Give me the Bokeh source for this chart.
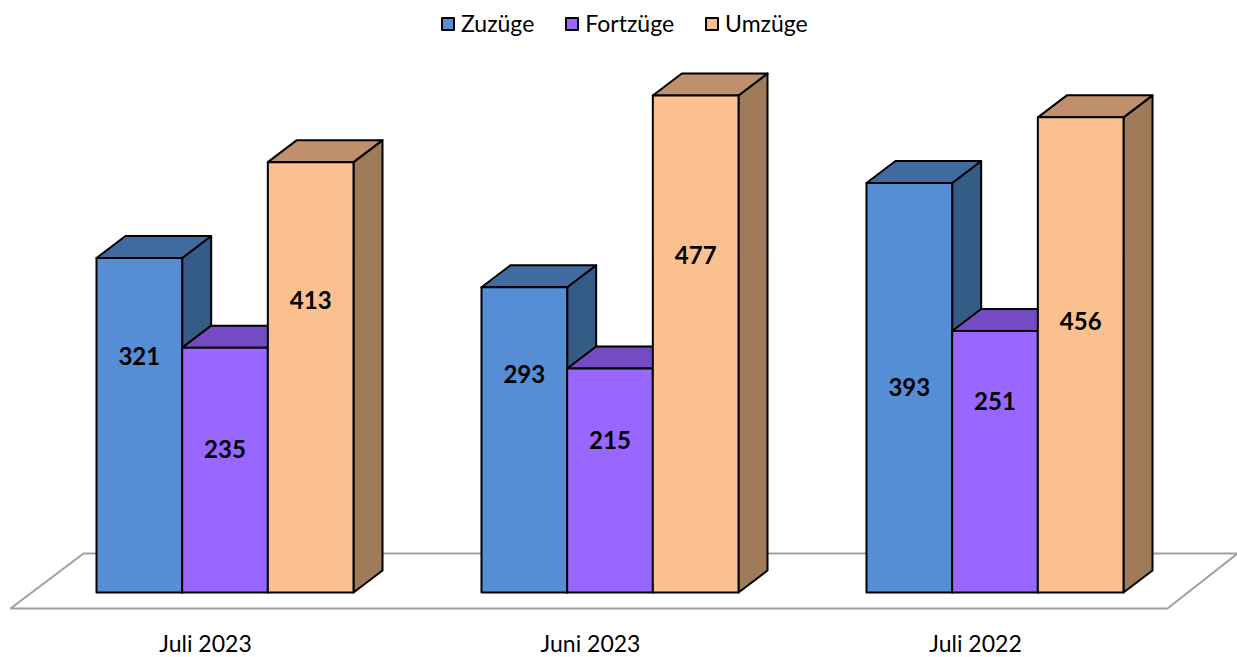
from bokeh.plotting import figure
from bokeh.models import Range1d, Legend, LegendItem, ColumnDataSource
from bokeh.core.properties import value
from bokeh.embed import file_html
from bokeh.resources import INLINE

# ---------------- data ----------------
categories = ["Juli 2023", "Juni 2023", "Juli 2022"]
series_names = ["Zuzüge", "Fortzüge", "Umzüge"]
zuzuege = [321, 293, 393]
fortzuege = [235, 215, 251]
umzuege = [413, 477, 456]
series_values = [zuzuege, fortzuege, umzuege]

# ---------------- style ----------------
front_colors = ["#558ED5", "#9966FF", "#FAC090"]
top_colors = ["#3F6BA0", "#744BC2", "#BF906B"]
side_colors = ["#355B87", "#6A40B8", "#A07B5A"]
# vertical placement of value labels (data units), as in the original
label_y = [[227, 210, 197], [138, 146, 184], [281, 324, 261]]

W, H = 1237, 657
PX_X = 385.0      # pixels per category
PX_Y = 1.042      # pixels per value unit
X0 = -224.5 / PX_X
Y0 = -65.0 / PX_Y
BAR_W = 85.67 / PX_X
DX = 29.0 / PX_X
DY = 22.0 / PX_Y
FONT = "Lato"

p = figure(width=W, height=H,
           x_range=Range1d(X0, X0 + W / PX_X),
           y_range=Range1d(Y0, Y0 + H / PX_Y),
           output_backend="svg", toolbar_location=None,
           x_axis_type=None, y_axis_type=None, min_border=0)
p.grid.visible = False
p.outline_line_color = None
p.background_fill_color = "white"

# floor
fl_x = [-0.5571, 2.4481, 2.6299, -0.3675]
fl_y = [-15.4, -15.4, 37.4, 37.4]
p.patch(fl_x, fl_y, fill_color="white", line_color="#A0A0A0", line_width=2)

tops_xs, tops_ys, tops_c = [], [], []
sides_xs, sides_ys, sides_c = [], [], []
fronts = []
for s, vals in enumerate(series_values):
    lefts, rights, tops = [], [], []
    for k, v in enumerate(vals):
        l = k + (s - 1.5) * BAR_W
        r = l + BAR_W
        lefts.append(l); rights.append(r); tops.append(v)
        tops_xs.append([l, r, r + DX, l + DX])
        tops_ys.append([v, v, v + DY, v + DY])
        tops_c.append(top_colors[s])
        sides_xs.append([r, r + DX, r + DX, r])
        sides_ys.append([0, DY, v + DY, v])
        sides_c.append(side_colors[s])
    fronts.append(ColumnDataSource(dict(left=lefts, right=rights,
                                        top=tops, bottom=[0] * len(vals))))

# sides first, then tops (a lower neighbour's top hides the lower part of a side)
p.patches(xs=sides_xs, ys=sides_ys, fill_color=sides_c, line_color="black",
          line_width=2, line_join="round")
p.patches(xs=tops_xs, ys=tops_ys, fill_color=tops_c, line_color="black",
          line_width=2, line_join="round")

renderers = []
for s in range(3):
    r = p.quad(left="left", right="right", top="top", bottom="bottom",
               source=fronts[s], fill_color=front_colors[s],
               line_color="black", line_width=2, line_join="round")
    renderers.append(r)

# value labels
lx, ly, lt = [], [], []
for s, vals in enumerate(series_values):
    for k, v in enumerate(vals):
        lx.append(k + (s - 1) * BAR_W)
        ly.append(label_y[s][k])
        lt.append(str(v))
p.text(x=lx, y=ly, text=lt, text_align="center", text_baseline="middle",
       text_font=value(FONT), text_font_style="bold", text_font_size="24px",
       text_color="black")

# category labels
p.text(x=[k - 0.0506 for k in range(len(categories))],
       y=[-48.9] * len(categories), text=categories,
       text_align="center", text_baseline="middle",
       text_font=value(FONT), text_font_size="23px", text_color="black")

legend = Legend(items=[LegendItem(label=series_names[s], renderers=[renderers[s]])
                       for s in range(3)],
                location=(440, 620), orientation="horizontal",
                glyph_width=15, glyph_height=15, label_standoff=6, spacing=30,
                padding=0, margin=0, border_line_alpha=0,
                background_fill_alpha=0,
                label_text_font=FONT, label_text_font_size="23px",
                label_text_color="black")
p.add_layout(legend)

open("out.html", "w").write(file_html(p, INLINE))
